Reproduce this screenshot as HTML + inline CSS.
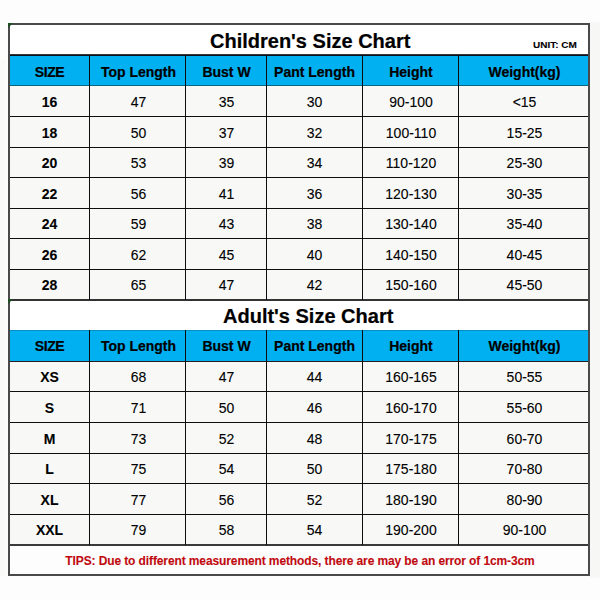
<!DOCTYPE html>
<html><head><meta charset="utf-8"><style>
html,body{margin:0;padding:0}
body{width:600px;height:600px;background:#fdfdfd;position:relative;overflow:hidden;font-family:"Liberation Sans",Arial,sans-serif;color:#000;-webkit-text-stroke:0.1px}
body>div{position:absolute;box-sizing:content-box}
.title{font-weight:bold;font-size:20px;-webkit-text-stroke:0.2px;white-space:nowrap}
.unit{font-weight:bold;font-size:10px;white-space:nowrap;transform:scaleY(0.875);transform-origin:0 10px}
.hd{font-weight:bold;font-size:14px;-webkit-text-stroke:0.2px;text-align:center;white-space:nowrap}
.hd0{letter-spacing:-0.45px}
.b{font-weight:bold;font-size:14px;text-align:center;transform:scaleY(1.07)}
.n{font-size:14px;text-align:center;transform:scaleY(1.07)}
.tips{font-weight:bold;font-size:12px;letter-spacing:-0.11px;text-align:center;color:#c00a0f;white-space:nowrap}
</style></head><body>
<div style="left:10px;top:25px;width:578px;height:30px;background:#fff"></div>
<div style="left:10px;top:56px;width:578px;height:30px;background:#00b0f0"></div>
<div style="left:10px;top:86px;width:578px;height:214px;background:#f8f9f7"></div>
<div style="left:10px;top:301px;width:578px;height:30px;background:#fff"></div>
<div style="left:10px;top:330px;width:578px;height:31px;background:#00b0f0"></div>
<div style="left:10px;top:361px;width:578px;height:185px;background:#f8f9f7"></div>
<div style="left:10px;top:54px;width:578px;height:1px;background:#3a3434"></div>
<div style="left:10px;top:55px;width:578px;height:1px;background:#0a1420"></div>
<div style="left:10px;top:85px;width:578px;height:1px;background:#08687f"></div>
<div style="left:10px;top:116px;width:578px;height:1px;background:#0d0d0d"></div>
<div style="left:10px;top:147px;width:578px;height:1px;background:#0d0d0d"></div>
<div style="left:10px;top:177px;width:578px;height:1px;background:#0d0d0d"></div>
<div style="left:10px;top:208px;width:578px;height:1px;background:#0d0d0d"></div>
<div style="left:10px;top:238px;width:578px;height:1px;background:#0d0d0d"></div>
<div style="left:10px;top:269px;width:578px;height:1px;background:#0d0d0d"></div>
<div style="left:10px;top:299px;width:578px;height:2px;background:#333"></div>
<div style="left:10px;top:330px;width:578px;height:1px;background:#0590c4"></div>
<div style="left:10px;top:361px;width:578px;height:1px;background:#231d1f"></div>
<div style="left:10px;top:391px;width:578px;height:1px;background:#0d0d0d"></div>
<div style="left:10px;top:422px;width:578px;height:1px;background:#0d0d0d"></div>
<div style="left:10px;top:453px;width:578px;height:1px;background:#0d0d0d"></div>
<div style="left:10px;top:483px;width:578px;height:1px;background:#0d0d0d"></div>
<div style="left:10px;top:514px;width:578px;height:1px;background:#0d0d0d"></div>
<div style="left:10px;top:544px;width:578px;height:2px;background:#3a3a3a"></div>
<div style="left:89px;top:55px;width:1px;height:245px;background:#0d0d0d"></div>
<div style="left:89px;top:330px;width:1px;height:215px;background:#0d0d0d"></div>
<div style="left:185px;top:55px;width:1px;height:245px;background:#0d0d0d"></div>
<div style="left:185px;top:330px;width:1px;height:215px;background:#0d0d0d"></div>
<div style="left:266px;top:55px;width:1px;height:245px;background:#0d0d0d"></div>
<div style="left:266px;top:330px;width:1px;height:215px;background:#0d0d0d"></div>
<div style="left:362px;top:55px;width:1px;height:245px;background:#0d0d0d"></div>
<div style="left:362px;top:330px;width:1px;height:215px;background:#0d0d0d"></div>
<div style="left:458px;top:55px;width:1px;height:245px;background:#0d0d0d"></div>
<div style="left:458px;top:330px;width:1px;height:215px;background:#0d0d0d"></div>
<div style="left:590px;top:22px;width:10px;height:556px;background:#f7f7f5"></div>
<div style="left:0px;top:60px;width:6px;height:516px;background:#fafaf8"></div>
<div style="left:8px;top:23px;width:578px;height:549px;border:2px solid #4a4a4a"></div>
<svg style="position:absolute;left:8px;top:23px" width="5" height="5"><path d="M0 0H5L0 5Z" fill="#1d4d22"/></svg>
<svg style="position:absolute;left:8px;top:299px" width="5" height="5"><path d="M0 0H5L0 5Z" fill="#1d4d22"/></svg>
<div class="title" style="left:210px;top:27px;height:29px;line-height:29px">Children's Size Chart</div>
<div class="unit" style="left:533px;top:30.5px;height:29px;line-height:29px">UNIT: CM</div>
<div class="hd hd0" style="left:10px;top:58px;width:79px;height:29px;line-height:29px">SIZE</div>
<div class="hd" style="left:91px;top:58px;width:95px;height:29px;line-height:29px">Top Length</div>
<div class="hd" style="left:186.5px;top:58px;width:80.0px;height:29px;line-height:29px">Bust W</div>
<div class="hd" style="left:267px;top:58px;width:95px;height:29px;line-height:29px">Pant Length</div>
<div class="hd" style="left:363.5px;top:58px;width:95.0px;height:29px;line-height:29px">Height</div>
<div class="hd" style="left:460px;top:58px;width:129px;height:29px;line-height:29px">Weight(kg)</div>
<div class="b" style="left:10px;top:87px;width:79px;height:30px;line-height:30px">16</div>
<div class="n" style="left:91px;top:87px;width:95px;height:30px;line-height:30px">47</div>
<div class="n" style="left:186.5px;top:87px;width:80.0px;height:30px;line-height:30px">35</div>
<div class="n" style="left:267px;top:87px;width:95px;height:30px;line-height:30px">30</div>
<div class="n" style="left:363.5px;top:87px;width:95.0px;height:30px;line-height:30px">90-100</div>
<div class="n" style="left:460px;top:87px;width:129px;height:30px;line-height:30px">&lt;15</div>
<div class="b" style="left:10px;top:118px;width:79px;height:30px;line-height:30px">18</div>
<div class="n" style="left:91px;top:118px;width:95px;height:30px;line-height:30px">50</div>
<div class="n" style="left:186.5px;top:118px;width:80.0px;height:30px;line-height:30px">37</div>
<div class="n" style="left:267px;top:118px;width:95px;height:30px;line-height:30px">32</div>
<div class="n" style="left:363.5px;top:118px;width:95.0px;height:30px;line-height:30px">100-110</div>
<div class="n" style="left:460px;top:118px;width:129px;height:30px;line-height:30px">15-25</div>
<div class="b" style="left:10px;top:149px;width:79px;height:29px;line-height:29px">20</div>
<div class="n" style="left:91px;top:149px;width:95px;height:29px;line-height:29px">53</div>
<div class="n" style="left:186.5px;top:149px;width:80.0px;height:29px;line-height:29px">39</div>
<div class="n" style="left:267px;top:149px;width:95px;height:29px;line-height:29px">34</div>
<div class="n" style="left:363.5px;top:149px;width:95.0px;height:29px;line-height:29px">110-120</div>
<div class="n" style="left:460px;top:149px;width:129px;height:29px;line-height:29px">25-30</div>
<div class="b" style="left:10px;top:179px;width:79px;height:30px;line-height:30px">22</div>
<div class="n" style="left:91px;top:179px;width:95px;height:30px;line-height:30px">56</div>
<div class="n" style="left:186.5px;top:179px;width:80.0px;height:30px;line-height:30px">41</div>
<div class="n" style="left:267px;top:179px;width:95px;height:30px;line-height:30px">36</div>
<div class="n" style="left:363.5px;top:179px;width:95.0px;height:30px;line-height:30px">120-130</div>
<div class="n" style="left:460px;top:179px;width:129px;height:30px;line-height:30px">30-35</div>
<div class="b" style="left:10px;top:210px;width:79px;height:29px;line-height:29px">24</div>
<div class="n" style="left:91px;top:210px;width:95px;height:29px;line-height:29px">59</div>
<div class="n" style="left:186.5px;top:210px;width:80.0px;height:29px;line-height:29px">43</div>
<div class="n" style="left:267px;top:210px;width:95px;height:29px;line-height:29px">38</div>
<div class="n" style="left:363.5px;top:210px;width:95.0px;height:29px;line-height:29px">130-140</div>
<div class="n" style="left:460px;top:210px;width:129px;height:29px;line-height:29px">35-40</div>
<div class="b" style="left:10px;top:240px;width:79px;height:30px;line-height:30px">26</div>
<div class="n" style="left:91px;top:240px;width:95px;height:30px;line-height:30px">62</div>
<div class="n" style="left:186.5px;top:240px;width:80.0px;height:30px;line-height:30px">45</div>
<div class="n" style="left:267px;top:240px;width:95px;height:30px;line-height:30px">40</div>
<div class="n" style="left:363.5px;top:240px;width:95.0px;height:30px;line-height:30px">140-150</div>
<div class="n" style="left:460px;top:240px;width:129px;height:30px;line-height:30px">40-45</div>
<div class="b" style="left:10px;top:271px;width:79px;height:29px;line-height:29px">28</div>
<div class="n" style="left:91px;top:271px;width:95px;height:29px;line-height:29px">65</div>
<div class="n" style="left:186.5px;top:271px;width:80.0px;height:29px;line-height:29px">47</div>
<div class="n" style="left:267px;top:271px;width:95px;height:29px;line-height:29px">42</div>
<div class="n" style="left:363.5px;top:271px;width:95.0px;height:29px;line-height:29px">150-160</div>
<div class="n" style="left:460px;top:271px;width:129px;height:29px;line-height:29px">45-50</div>
<div class="title" style="left:223px;top:302px;height:29px;line-height:29px">Adult's Size Chart</div>
<div class="hd hd0" style="left:10px;top:331px;width:79px;height:30px;line-height:30px">SIZE</div>
<div class="hd" style="left:91px;top:331px;width:95px;height:30px;line-height:30px">Top Length</div>
<div class="hd" style="left:186.5px;top:331px;width:80.0px;height:30px;line-height:30px">Bust W</div>
<div class="hd" style="left:267px;top:331px;width:95px;height:30px;line-height:30px">Pant Length</div>
<div class="hd" style="left:363.5px;top:331px;width:95.0px;height:30px;line-height:30px">Height</div>
<div class="hd" style="left:460px;top:331px;width:129px;height:30px;line-height:30px">Weight(kg)</div>
<div class="b" style="left:10px;top:363px;width:79px;height:29px;line-height:29px">XS</div>
<div class="n" style="left:91px;top:363px;width:95px;height:29px;line-height:29px">68</div>
<div class="n" style="left:186.5px;top:363px;width:80.0px;height:29px;line-height:29px">47</div>
<div class="n" style="left:267px;top:363px;width:95px;height:29px;line-height:29px">44</div>
<div class="n" style="left:363.5px;top:363px;width:95.0px;height:29px;line-height:29px">160-165</div>
<div class="n" style="left:460px;top:363px;width:129px;height:29px;line-height:29px">50-55</div>
<div class="b" style="left:10px;top:393px;width:79px;height:30px;line-height:30px">S</div>
<div class="n" style="left:91px;top:393px;width:95px;height:30px;line-height:30px">71</div>
<div class="n" style="left:186.5px;top:393px;width:80.0px;height:30px;line-height:30px">50</div>
<div class="n" style="left:267px;top:393px;width:95px;height:30px;line-height:30px">46</div>
<div class="n" style="left:363.5px;top:393px;width:95.0px;height:30px;line-height:30px">160-170</div>
<div class="n" style="left:460px;top:393px;width:129px;height:30px;line-height:30px">55-60</div>
<div class="b" style="left:10px;top:424px;width:79px;height:30px;line-height:30px">M</div>
<div class="n" style="left:91px;top:424px;width:95px;height:30px;line-height:30px">73</div>
<div class="n" style="left:186.5px;top:424px;width:80.0px;height:30px;line-height:30px">52</div>
<div class="n" style="left:267px;top:424px;width:95px;height:30px;line-height:30px">48</div>
<div class="n" style="left:363.5px;top:424px;width:95.0px;height:30px;line-height:30px">170-175</div>
<div class="n" style="left:460px;top:424px;width:129px;height:30px;line-height:30px">60-70</div>
<div class="b" style="left:10px;top:455px;width:79px;height:29px;line-height:29px">L</div>
<div class="n" style="left:91px;top:455px;width:95px;height:29px;line-height:29px">75</div>
<div class="n" style="left:186.5px;top:455px;width:80.0px;height:29px;line-height:29px">54</div>
<div class="n" style="left:267px;top:455px;width:95px;height:29px;line-height:29px">50</div>
<div class="n" style="left:363.5px;top:455px;width:95.0px;height:29px;line-height:29px">175-180</div>
<div class="n" style="left:460px;top:455px;width:129px;height:29px;line-height:29px">70-80</div>
<div class="b" style="left:10px;top:485px;width:79px;height:30px;line-height:30px">XL</div>
<div class="n" style="left:91px;top:485px;width:95px;height:30px;line-height:30px">77</div>
<div class="n" style="left:186.5px;top:485px;width:80.0px;height:30px;line-height:30px">56</div>
<div class="n" style="left:267px;top:485px;width:95px;height:30px;line-height:30px">52</div>
<div class="n" style="left:363.5px;top:485px;width:95.0px;height:30px;line-height:30px">180-190</div>
<div class="n" style="left:460px;top:485px;width:129px;height:30px;line-height:30px">80-90</div>
<div class="b" style="left:10px;top:516px;width:79px;height:29px;line-height:29px">XXL</div>
<div class="n" style="left:91px;top:516px;width:95px;height:29px;line-height:29px">79</div>
<div class="n" style="left:186.5px;top:516px;width:80.0px;height:29px;line-height:29px">58</div>
<div class="n" style="left:267px;top:516px;width:95px;height:29px;line-height:29px">54</div>
<div class="n" style="left:363.5px;top:516px;width:95.0px;height:29px;line-height:29px">190-200</div>
<div class="n" style="left:460px;top:516px;width:129px;height:29px;line-height:29px">90-100</div>
<div class="tips" style="left:11px;top:547px;width:578px;height:28px;line-height:28px">TIPS: Due to different measurement methods, there are may be an error of 1cm-3cm</div>
</body></html>
